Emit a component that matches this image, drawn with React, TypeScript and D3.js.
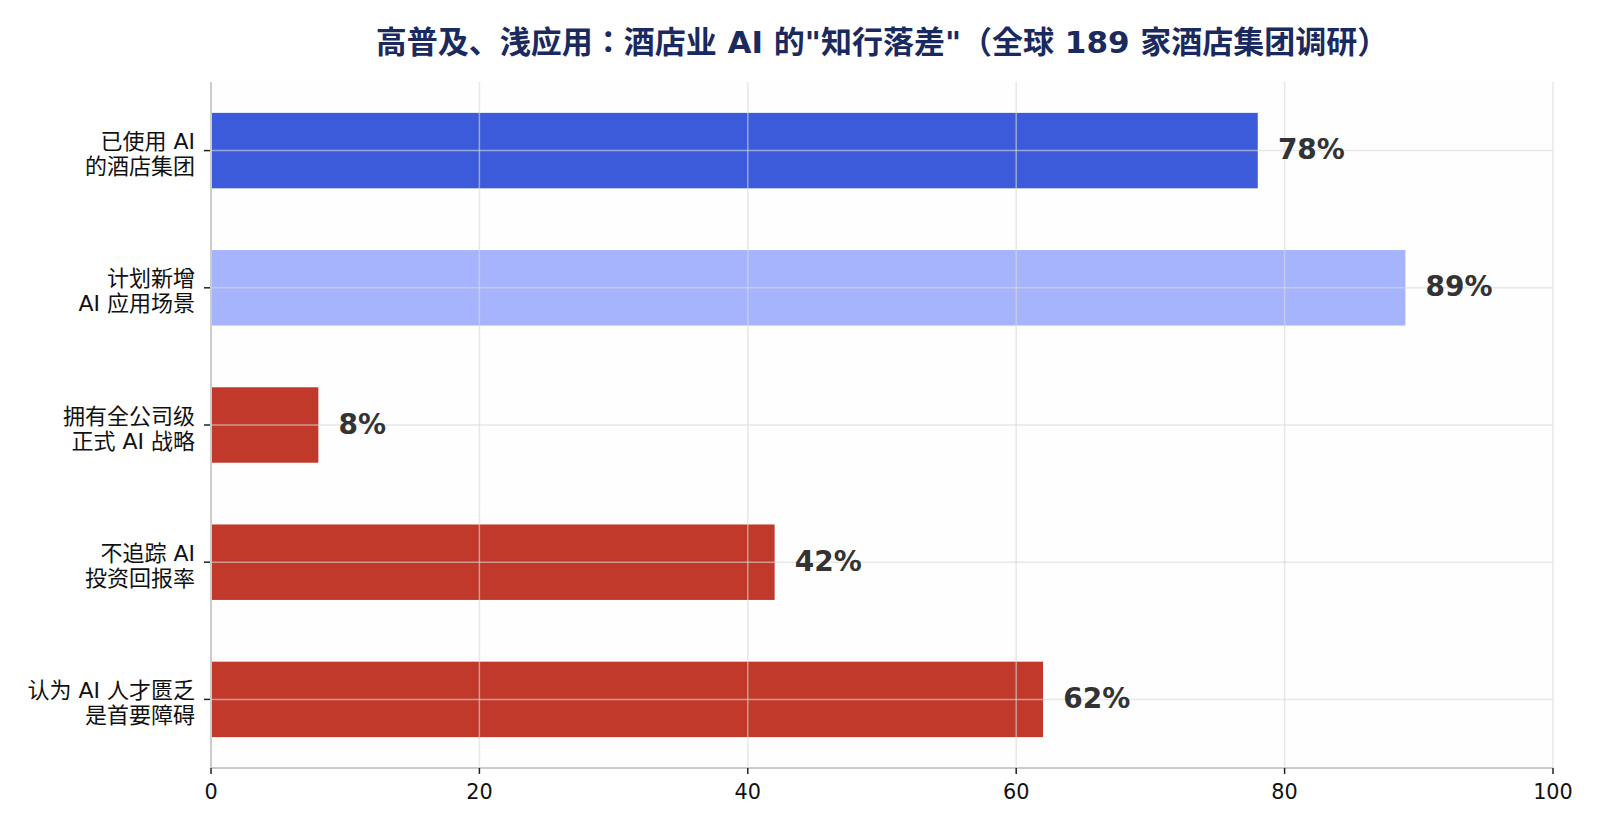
import React from "react";
import * as d3 from "d3";

const categories = ["已使用 AI\n的酒店集团", "计划新增\nAI 应用场景", "拥有全公司级\n正式 AI 战略", "不追踪 AI\n投资回报率", "认为 AI 人才匮乏\n是首要障碍"];
const values = [78, 89, 8, 42, 62];
const barColors = ["#3b5bdb", "#a5b4fc", "#c0392b", "#c0392b", "#c0392b"];
const xTicks = [0, 20, 40, 60, 80, 100];
const title = "高普及、浅应用：酒店业 AI 的\"知行落差\"（全球 189 家酒店集团调研）";

const W = 1600, H = 832;
const M = { left: 211, right: 1553, top: 82, bottom: 768 };
const FONT = "'DejaVu Sans', 'Noto Sans CJK JP', sans-serif";

export default function App() {
  const x = d3.scaleLinear().domain([0, 100]).range([M.left, M.right]);
  const y = d3.scaleBand<string>().domain(categories).range([M.top, M.bottom]).paddingInner(0.45).paddingOuter(0.225);
  const center = (c: string) => (y(c) as number) + y.bandwidth() / 2;

  return (
    <svg width={W} height={H} style={{ position: "absolute", left: 0, top: 0, background: "#fff" }} fontFamily={FONT}>
      <rect x={0} y={0} width={W} height={H} fill="#ffffff" />
      <text x={882} y={53} textAnchor="middle" fontSize={31} fontWeight="bold" fill="#1b2a5e">{title}</text>
      <rect x={M.left} y={M.top} width={M.right - M.left} height={M.bottom - M.top} fill="#fefefe" />
      {categories.map((c, i) => (
        <rect key={c} x={x(0)} y={y(c) as number} width={x(values[i]) - x(0)} height={y.bandwidth()} fill={barColors[i]} />
      ))}
      {xTicks.map((t) => (
        <line key={"gx" + t} x1={x(t)} x2={x(t)} y1={M.top} y2={M.bottom} stroke="#d8d8d8" strokeOpacity={0.6} strokeWidth={1.5} />
      ))}
      {categories.map((c) => (
        <line key={"gy" + c} x1={M.left} x2={M.right} y1={center(c)} y2={center(c)} stroke="#d8d8d8" strokeOpacity={0.6} strokeWidth={1.5} />
      ))}
      <line x1={M.left} x2={M.left} y1={M.top} y2={M.bottom} stroke="#cccccc" strokeWidth={2} />
      <line x1={M.left} x2={M.right} y1={M.bottom} y2={M.bottom} stroke="#cccccc" strokeWidth={2} />
      {xTicks.map((t) => (
        <g key={"xt" + t}>
          <line x1={x(t)} x2={x(t)} y1={M.bottom} y2={M.bottom + 6} stroke="#222" strokeWidth={1.5} />
          <text x={x(t)} y={799} textAnchor="middle" fontSize={20.8} fill="#111">{t}</text>
        </g>
      ))}
      {categories.map((c) => {
        const cy = center(c);
        const lines = c.split("\n");
        return (
          <g key={"yt" + c}>
            <line x1={M.left - 7} x2={M.left - 1} y1={cy} y2={cy} stroke="#222" strokeWidth={1.5} />
            {lines.map((ln, k) => (
              <text key={k} x={195} y={cy - 1.5 + k * 25} textAnchor="end" fontSize={22} fill="#111">{ln}</text>
            ))}
          </g>
        );
      })}
      {categories.map((c, i) => (
        <text key={"v" + c} x={x(values[i] + 1.5)} y={center(c) + 8.5} fontSize={28} fontWeight="bold" fill="#333333">{values[i]}%</text>
      ))}
    </svg>
  );
}
